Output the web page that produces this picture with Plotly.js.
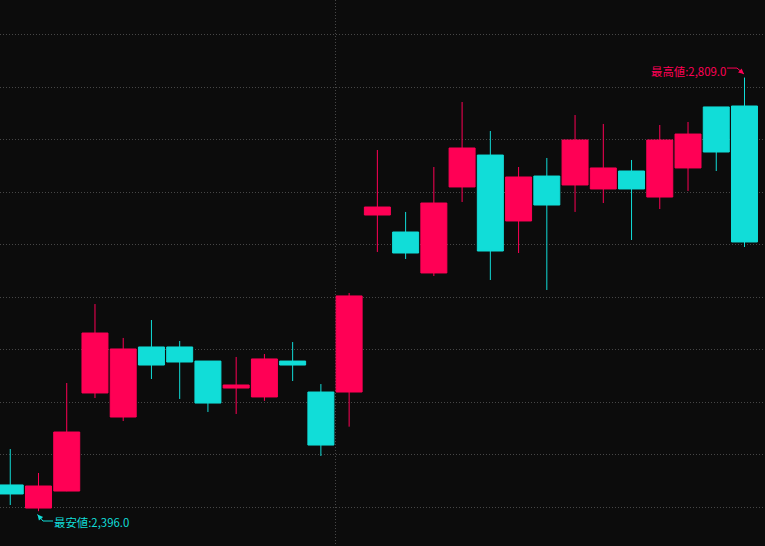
<!DOCTYPE html>
<html>
<head>
<meta charset="utf-8">
<script src="https://cdn.plot.ly/plotly-3.0.1.min.js"></script>
<style>
  html, body { margin: 0; padding: 0; background: #0c0c0c; }
  #chart { width: 765px; height: 546px; }
</style>
</head>
<body>
<div id="chart"></div>
<script>
// ---- data ----
const days  = [0, 1, 2, 3, 4, 5, 6, 7, 8, 9, 10, 11, 12, 13, 14, 15, 16, 17, 18, 19, 20, 21, 22, 23, 24, 25, 26];
const open  = [2421.0, 2399.0, 2415.2, 2508.6, 2485.7, 2552.4, 2552.4, 2539.0, 2513.3, 2504.8, 2539.0, 2509.5, 2509.5, 2678.1, 2661.9, 2622.9, 2704.8, 2735.2, 2672.4, 2715.2, 2706.7, 2702.9, 2720.0, 2695.2, 2722.9, 2781.0, 2781.9];
const high  = [2455.2, 2432.4, 2518.1, 2593.3, 2561.0, 2578.1, 2558.1, 2539.0, 2542.9, 2545.7, 2557.1, 2517.1, 2603.8, 2740.0, 2681.0, 2723.8, 2785.7, 2758.1, 2723.8, 2732.4, 2773.3, 2764.8, 2730.5, 2763.8, 2766.7, 2781.0, 2809.0];
const low   = [2401.9, 2396.0, 2415.0, 2503.8, 2481.9, 2521.9, 2502.9, 2490.5, 2488.6, 2501.0, 2520.0, 2448.6, 2476.5, 2642.9, 2636.2, 2620.0, 2690.5, 2616.2, 2641.9, 2606.7, 2681.0, 2689.5, 2654.3, 2683.8, 2701.0, 2720.0, 2647.6];
const close = [2412.4, 2420.0, 2471.4, 2565.7, 2550.5, 2535.2, 2538.1, 2499.0, 2516.2, 2541.0, 2535.2, 2459.0, 2601.0, 2685.7, 2641.9, 2689.5, 2741.9, 2643.8, 2714.3, 2687.6, 2749.5, 2722.9, 2702.9, 2749.5, 2755.2, 2738.1, 2652.4];
const priceGrid = [2400, 2450, 2500, 2550, 2600, 2650, 2700, 2750, 2800, 2850];
const dividerAfter = 11;          // month boundary between candle 12 and 13
const highLabel = '最高値:';
const lowLabel  = '最安値:';

// ---- styling ----
const UP = '#ff0055';
const DOWN = '#11ddd8';
const BG = '#0c0c0c';
const GRID = '#474747';

const maxHigh = Math.max(...high);
const minLow = Math.min(...low);
const maxIdx = days[high.indexOf(maxHigh)];
const minIdx = days[low.indexOf(minLow)];
const fmt = v => v.toLocaleString('en-US', {minimumFractionDigits: 1, maximumFractionDigits: 1});

const trace = {
  type: 'candlestick',
  x: days, open: open, high: high, low: low, close: close,
  increasing: { line: { color: UP, width: 1 }, fillcolor: UP },
  decreasing: { line: { color: DOWN, width: 1 }, fillcolor: DOWN },
  whiskerwidth: 0,
  hoverinfo: 'skip'
};

const font = { family: '"Noto Sans CJK JP", "Noto Sans", sans-serif', size: 11.4 };

// helper for a bare arrow / line segment anchored at a data point
function seg(x, y, color, xs, ys, ax, ay, head) {
  return { x: x, y: y, xref: 'x', yref: 'y', text: '', showarrow: true,
    font: { size: 1 }, borderpad: 0, borderwidth: 0,
    arrowhead: head ? 2 : 0, arrowsize: head ? 1.1 : 1, arrowwidth: 1, arrowcolor: color,
    ax: ax, ay: ay, xshift: xs, yshift: ys, standoff: 0 };
}

const annotations = [
  // high label
  { x: maxIdx, y: maxHigh, xref: 'x', yref: 'y', text: highLabel + fmt(maxHigh),
    showarrow: false, xanchor: 'right', yanchor: 'middle', xshift: -17.5, yshift: 6.5,
    font: Object.assign({}, font, { color: UP }), borderpad: 0 },
  seg(maxIdx, maxHigh, UP, -7.5, 9.5, -10, 0, false),
  seg(maxIdx, maxHigh, UP, -0.5, 3.5, -7, -6, false),
  seg(maxIdx, maxHigh, UP, -0.5, 3.5, -3.5, -3, true),
  // low label
  { x: minIdx, y: minLow, xref: 'x', yref: 'y', text: lowLabel + fmt(minLow),
    showarrow: false, xanchor: 'left', yanchor: 'middle', xshift: 15, yshift: -10.3,
    font: Object.assign({}, font, { color: DOWN }), borderpad: 0 },
  seg(minIdx, minLow, DOWN, 4.5, -9.8, 10, 0, false),
  seg(minIdx, minLow, DOWN, -1, -3.3, 5.5, 6.5, false),
  seg(minIdx, minLow, DOWN, -1, -3.3, 2.7, 3.2, true)
];

const layout = {
  width: 765, height: 546,
  margin: { l: 0, r: 0, t: 0, b: 0, pad: 0 },
  paper_bgcolor: BG, plot_bgcolor: BG,
  showlegend: false,
  boxgap: 0.08, boxgroupgap: 0,
  xaxis: {
    range: [-0.363, 26.726],
    rangeslider: { visible: false },
    showticklabels: false, ticks: '', zeroline: false, showline: false,
    tickmode: 'array', tickvals: [dividerAfter + 0.5],
    showgrid: true, gridcolor: GRID, gridwidth: 1, griddash: '1px,2px'
  },
  yaxis: {
    range: [2362.86, 2882.86],
    showticklabels: false, ticks: '', zeroline: false, showline: false,
    tickmode: 'array', tickvals: priceGrid,
    showgrid: true, gridcolor: GRID, gridwidth: 1, griddash: '1px,2px'
  },
  annotations: annotations,
  font: font
};

Plotly.newPlot('chart', [trace], layout, { staticPlot: true, displayModeBar: false });
</script>
</body>
</html>
